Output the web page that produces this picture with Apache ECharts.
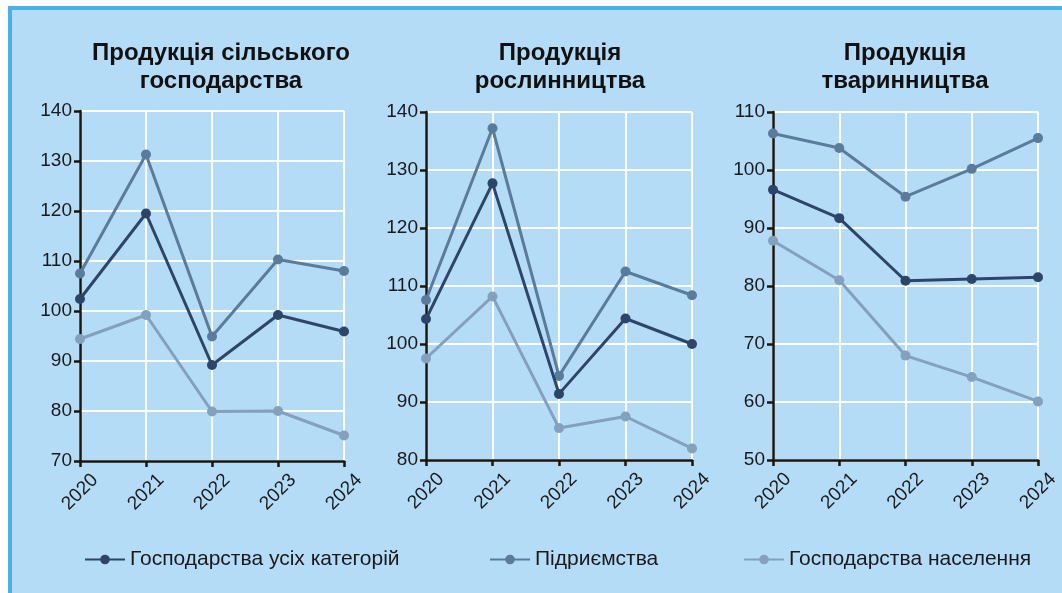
<!DOCTYPE html>
<html>
<head>
<meta charset="utf-8">
<script src="https://cdn.jsdelivr.net/npm/echarts@6/dist/echarts.min.js"></script>
<style>
  html, body { margin: 0; padding: 0; background: #fff; overflow: hidden; }
  #frame {
    position: absolute; left: 8px; top: 6px; width: 1070px; height: 600px;
    background: #b5dcf6; border-left: 4px solid #49b1ea; border-top: 4px solid #49b1ea;
  }
  #main { position: absolute; left: 0; top: 0; width: 1062px; height: 593px; }
</style>
</head>
<body>
<div id="frame"></div>
<div id="main"></div>
<script>
const years = ['2020', '2021', '2022', '2023', '2024'];
const seriesNames = ['Господарства усіх категорій', 'Підриємства', 'Господарства населення'];
const chartTitles = ['Продукція сільського\nгосподарства', 'Продукція\nрослинництва', 'Продукція\nтваринництва'];

// Продукція сільського господарства
const agriAll = [102.4, 119.5, 89.2, 99.2, 95.9];
const agriEnt = [107.5, 131.3, 94.9, 110.3, 108.0];
const agriHouse = [94.4, 99.2, 79.9, 80.0, 75.1];

// Продукція рослинництва
const cropAll = [104.3, 127.7, 91.4, 104.4, 100.0];
const cropEnt = [107.6, 137.2, 94.5, 112.5, 108.4];
const cropHouse = [97.5, 108.2, 85.5, 87.5, 82.0];

// Продукція тваринництва
const liveAll = [96.6, 91.7, 80.9, 81.2, 81.5];
const liveEnt = [106.3, 103.8, 95.4, 100.2, 105.5];
const liveHouse = [87.8, 81.0, 68.0, 64.3, 60.1];

const yRanges = [[70, 140], [80, 140], [50, 110]];
const panelData = [
  [agriAll, agriEnt, agriHouse],
  [cropAll, cropEnt, cropHouse],
  [liveAll, liveEnt, liveHouse]
];

const colors = ['#2c4569', '#5b7b9c', '#83a0bd'];
const axisColor = '#1c160d';
const textColor = '#1a1a1a';
const font = 'Arial, "Liberation Sans", sans-serif';

const grids = [
  { left: 80, top: 111, width: 264, height: 350 },
  { left: 426, top: 112, width: 266, height: 348 },
  { left: 773, top: 112, width: 265, height: 348 }
];
const titleCenters = [216, 555, 900];
const legendLefts = [79, 484, 738];

const chart = echarts.init(document.getElementById('main'));

const series = [];
panelData.forEach((group, g) => {
  group.forEach((vals, i) => {
    series.push({
      name: seriesNames[i],
      type: 'line',
      xAxisIndex: g,
      yAxisIndex: g,
      data: vals,
      symbol: 'circle',
      symbolSize: 10,
      z: 3 - i,
      lineStyle: { color: colors[i], width: 3 },
      itemStyle: { color: colors[i] }
    });
  });
});

chart.setOption({
  backgroundColor: 'transparent',
  animation: false,
  title: chartTitles.map((t, i) => ({
    text: t,
    left: titleCenters[i],
    top: 34,
    textAlign: 'center',
    textStyle: {
      fontFamily: font, fontSize: 24, fontWeight: 'bold', color: '#111', lineHeight: 28
    }
  })),
  legend: seriesNames.map((n, i) => ({
    data: [n],
    left: legendLefts[i],
    top: 544,
    itemWidth: 40,
    itemHeight: 12,
    itemGap: 13,
    selectedMode: false,
    textStyle: { fontFamily: font, fontSize: 21, color: textColor }
  })),
  grid: grids,
  xAxis: grids.map((_, g) => ({
    type: 'category',
    gridIndex: g,
    data: years,
    boundaryGap: false,
    axisLine: { lineStyle: { color: axisColor, width: 2.5 } },
    axisTick: { show: true, length: 6, lineStyle: { color: axisColor, width: 2.5 } },
    axisLabel: {
      rotate: 45, align: 'center', verticalAlign: 'middle',
      fontFamily: font, fontSize: 19, color: textColor, margin: 31
    },
    splitLine: { show: true, lineStyle: { color: '#ffffff', width: 2 } }
  })),
  yAxis: grids.map((_, g) => ({
    type: 'value',
    gridIndex: g,
    min: yRanges[g][0],
    max: yRanges[g][1],
    interval: 10,
    axisLine: { show: true, lineStyle: { color: axisColor, width: 2.5 } },
    axisTick: { show: true, length: 6, lineStyle: { color: axisColor, width: 2.5 } },
    axisLabel: { fontFamily: font, fontSize: 19, color: textColor, margin: 8 },
    splitLine: { show: true, lineStyle: { color: '#ffffff', width: 2 } }
  })),
  series: series
});
</script>
</body>
</html>
